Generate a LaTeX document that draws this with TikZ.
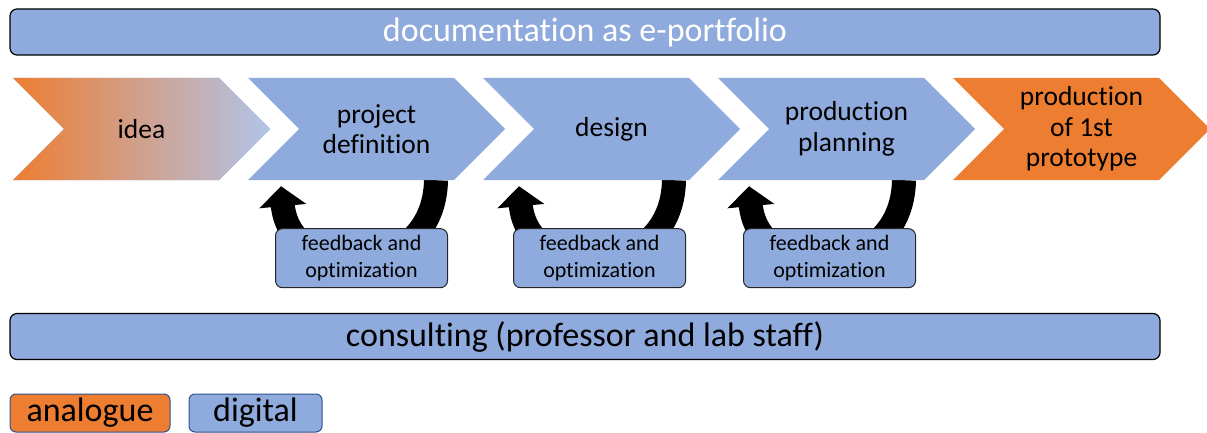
\documentclass[tikz,border=0pt]{standalone}
\usepackage{fontspec}
\setmainfont[Ligatures=NoCommon]{Carlito}
\usepackage{xcolor}
\usetikzlibrary{shapes.symbols,arrows.meta,positioning,calc,backgrounds}
\definecolor{ppblue}{HTML}{8FAADC}
\definecolor{pporange}{HTML}{ED7D31}
\definecolor{ppedge}{HTML}{2F528F}
\definecolor{pplight}{HTML}{B2C4E9}
\definecolor{ppmid}{HTML}{BEB2BE}

\begin{document}
\begin{tikzpicture}[
  x=1pt,y=1pt,
  stage/.style={signal,signal from=west,signal to=east,fill=ppblue,
                minimum width=257pt,minimum height=102pt,inner sep=0pt,
                align=center,font=\fontsize{27.5}{30.5}\selectfont},
  bar/.style  ={draw=black,line width=1.2pt,rounded corners=7pt,fill=ppblue,
                minimum width=1150pt,minimum height=46pt,inner sep=0pt,
                font=\fontsize{34}{40}\selectfont},
  fbk/.style  ={draw=black!85,line width=1pt,rounded corners=7pt,fill=ppblue,
                minimum width=172pt,minimum height=59pt,align=center,
                inner sep=0pt,font=\fontsize{22}{27}\selectfont},
  key/.style  ={draw=ppedge,line width=1pt,rounded corners=6pt,
                minimum height=38pt,inner sep=0pt,
                font=\fontsize{34}{40}\selectfont},
  ret/.style  ={line width=24pt,-{Triangle[width=46pt,length=20pt]}}]

\useasboundingbox (0,0) rectangle (1207,432);

% ---------- top bar ----------
\node[bar,text=white] (doc) at (585,400) {documentation as e-portfolio};

% ---------- process chevrons ----------
\node[stage,left color=pporange,middle color=ppmid,right color=pplight] (idea) at (141.5,303) {idea};
\node[stage] (pdef) at ([xshift=235pt]idea.center) {project\\definition};
\node[stage] (dsgn) at ([xshift=235pt]pdef.center) {design};
\node[stage] (plan) at ([xshift=235pt]dsgn.center) {production\\planning};
\node[stage,fill=pporange] (proto) at ([xshift=235pt]plan.center) {production\\of 1st\\prototype};

% ---------- feedback loops ----------
\node[fbk,below=48pt of pdef,xshift=-15pt] (fb1) {feedback and\\optimization};
\node[fbk,below=48pt of dsgn,xshift=-12pt] (fb2) {feedback and\\optimization};
\node[fbk,below=48pt of plan,xshift=-17pt] (fb3) {feedback and\\optimization};

\begin{scope}[on background layer]
\draw[ret] ($(fb1.north east |- pdef.south)+(-12,0)$) .. controls ($(fb1.south east)+(-14,5)$) and ($(fb1.south west)+(15,5)$) .. ($(fb1.north west |- pdef.south)+(6,-6)$);
\draw[ret] ($(fb2.north east |- dsgn.south)+(-12,0)$) .. controls ($(fb2.south east)+(-14,5)$) and ($(fb2.south west)+(15,5)$) .. ($(fb2.north west |- dsgn.south)+(6,-6)$);
\draw[ret] ($(fb3.north east |- plan.south)+(-12,0)$) .. controls ($(fb3.south east)+(-14,5)$) and ($(fb3.south west)+(15,5)$) .. ($(fb3.north west |- plan.south)+(6,-6)$);
\end{scope}

% ---------- bottom bar ----------
\node[bar] (cons) at (585,95.5) {consulting (professor and lab staff)};

% ---------- legend ----------
\node[key,fill=pporange,minimum width=160pt] (ana) at (90,19) {analogue};
\node[key,fill=ppblue,minimum width=133pt,right=18pt of ana] (dig) {digital};

\end{tikzpicture}
\end{document}
